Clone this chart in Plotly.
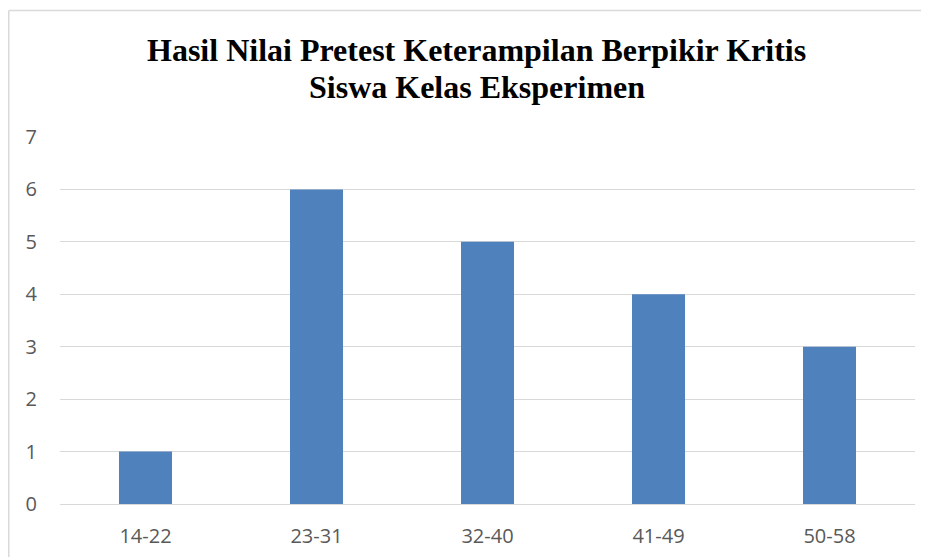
import plotly.graph_objects as go

categories = ["14-22", "23-31", "32-40", "41-49", "50-58"]
counts = [1, 6, 5, 4, 3]
y_ticks = [0, 1, 2, 3, 4, 5, 6, 7]
title_line1 = "Hasil Nilai Pretest Keterampilan Berpikir Kritis"
title_line2 = "Siswa Kelas Eksperimen"

# page has an 8px body margin, so figure is sized to fit the window
W, H = 921, 549
L, R, T, B = 52, 14, 129, 53
pw = W - L - R
ph = H - T - B

fig = go.Figure(go.Bar(
    x=categories, y=counts,
    marker=dict(color="#4f81bd", line=dict(width=0)),
    hoverinfo="x+y",
))

title_font = dict(family="Liberation Serif, Times New Roman, serif", size=32, color="black", weight="bold")


def px_x(xp):
    return (xp - L) / pw


def px_y(yp):
    return (H - B - yp) / ph


border = dict(color="#d9d9d9", width=1.5)

fig.update_layout(
    template="none",
    width=W, height=H,
    margin=dict(l=L, r=R, t=T, b=B),
    paper_bgcolor="white", plot_bgcolor="white",
    bargap=0.69,
    showlegend=False,
    font=dict(family="Open Sans, sans-serif", size=20, color="#595959"),
    xaxis=dict(
        automargin=False,
        showgrid=False, showline=False, zeroline=False, ticks="",
        tickfont=dict(size=20, color="#595959"),
        ticklabelstandoff=18,
    ),
    yaxis=dict(
        automargin=False,
        range=[0, 7], tickvals=y_ticks,
        showgrid=True, gridcolor="#d9d9d9", gridwidth=1.2,
        zeroline=True, zerolinecolor="#d9d9d9", zerolinewidth=1.2,
        showline=False, ticks="",
        tickfont=dict(size=20, color="#595959"),
        ticklabelstandoff=22,
    ),
    annotations=[
        dict(text=title_line1, xref="paper", yref="paper", x=px_x(468.5), y=px_y(42),
             xanchor="center", yanchor="middle", showarrow=False, font=title_font),
        dict(text=title_line2, xref="paper", yref="paper", x=px_x(468.5), y=px_y(79),
             xanchor="center", yanchor="middle", showarrow=False, font=title_font),
    ],
    shapes=[
        dict(type="line", xref="paper", yref="paper",
             x0=px_x(0.75), x1=px_x(0.75), y0=px_y(2.5), y1=px_y(H + 20), line=border),
        dict(type="line", xref="paper", yref="paper",
             x0=px_x(0.75), x1=px_x(W + 20), y0=px_y(2.5), y1=px_y(2.5), line=border),
    ],
)

fig.write_html("out.html", config={"displayModeBar": False})
